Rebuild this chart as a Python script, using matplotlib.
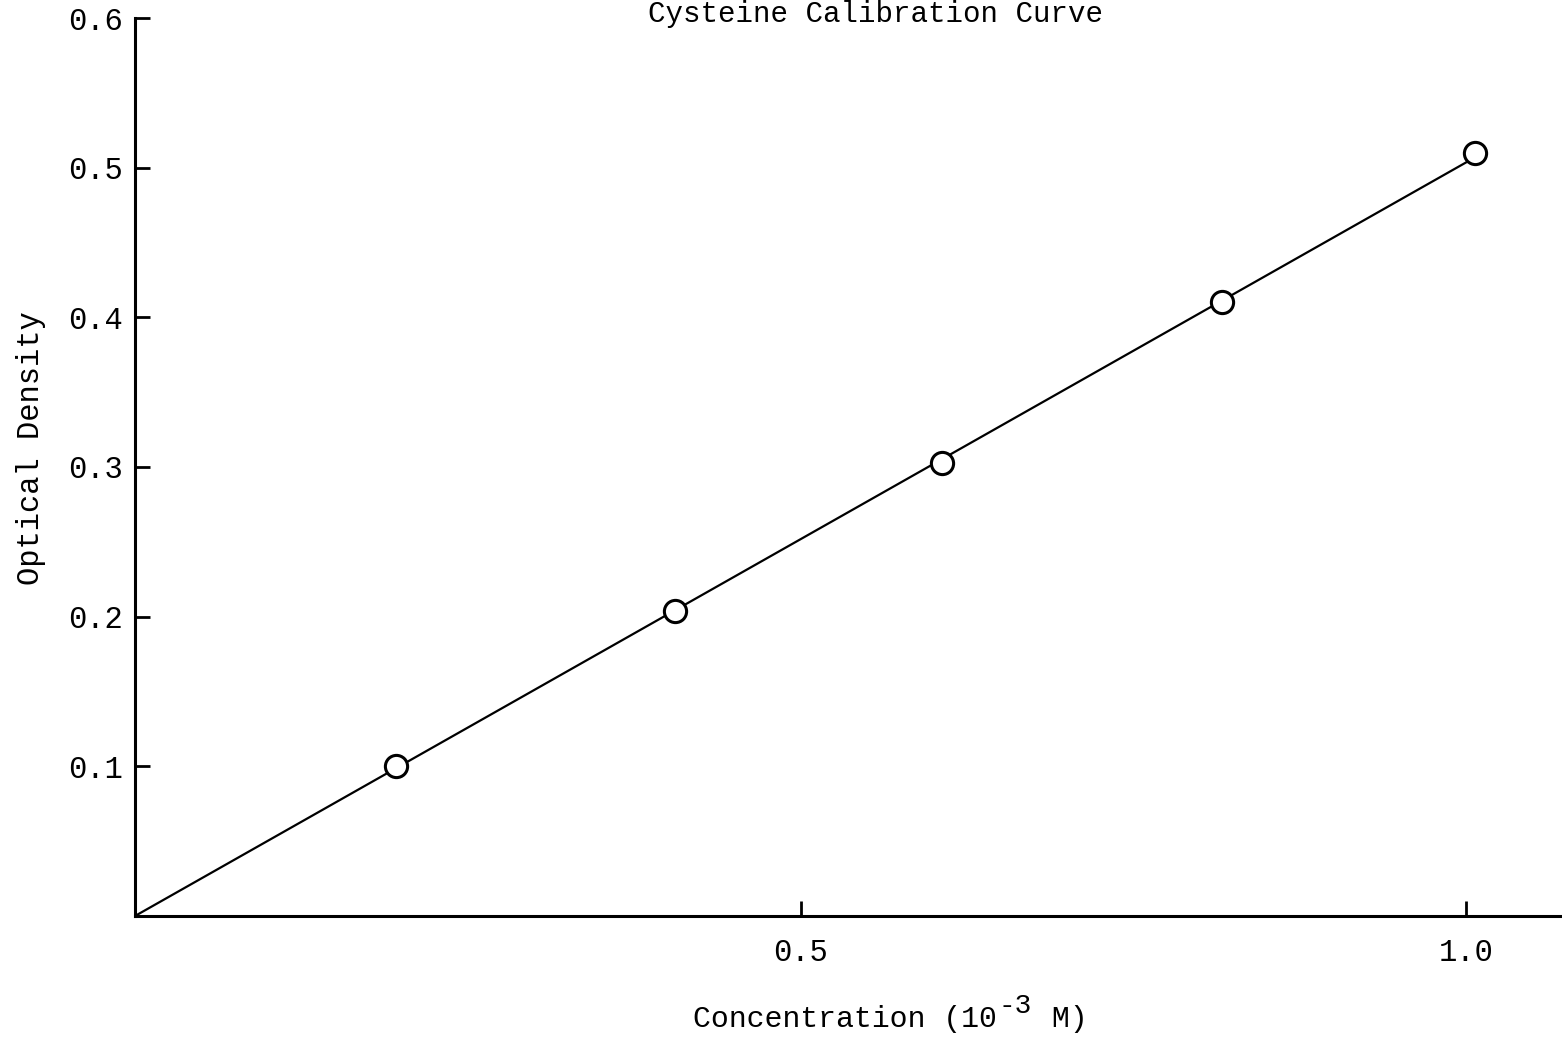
import matplotlib
matplotlib.use("Agg")
import matplotlib.pyplot as plt

# Data
conc = [0.196, 0.406, 0.606, 0.817, 1.007]
od = [0.100, 0.204, 0.303, 0.410, 0.510]
fit_x = [0.0, 1.007]
fit_y = [0.0, 0.507]
xticks = [0.5, 1.0]
xticklabels = ["0.5", "1.0"]
yticks = [0.1, 0.2, 0.3, 0.4, 0.5, 0.6]
yticklabels = ["0.1", "0.2", "0.3", "0.4", "0.5", "0.6"]

plt.rcParams['font.family'] = ['Liberation Mono', 'DejaVu Sans Mono']

W, H = 1562, 1042
fig = plt.figure(figsize=(W / 100, H / 100), dpi=100)
left, bottom_px, top_px = 135, 916, 18
ax = fig.add_axes([left / W, (H - bottom_px) / H, (W - left) / W, (bottom_px - top_px) / H])

ax.plot(fit_x, fit_y, color='black', lw=1.6, zorder=2)
ax.plot(conc, od, linestyle='none', marker='o', markersize=16,
        markerfacecolor='white', markeredgecolor='black', markeredgewidth=2.2, zorder=3)

ax.set_xlim(0, (W - left) / 1331)
ax.set_ylim(0, 0.6)
for s in ['top', 'right']:
    ax.spines[s].set_visible(False)
for s in ['left', 'bottom']:
    ax.spines[s].set_linewidth(2.2)
ax.set_xticks(xticks)
ax.set_xticklabels(xticklabels)
ax.set_yticks(yticks)
ax.set_yticklabels(yticklabels)
ax.tick_params(axis='both', direction='in', length=11, width=2, labelsize=22, colors='black')
ax.tick_params(axis='x', pad=16)
ax.tick_params(axis='y', pad=9)

fs = 21
fig.text(876 / W, 1 - 22 / H, 'Cysteine Calibration Curve', ha='center', va='baseline', fontsize=fs)
fig.text(31 / W, 1 - 448 / H, 'Optical Density', rotation=90, ha='center', va='center', fontsize=22)

# x label with full-size raised exponent
r = fig.canvas.get_renderer()
t1 = fig.text(693 / W, 1 - 1027 / H, 'Concentration (10', ha='left', va='baseline', fontsize=21.5)
bb1 = t1.get_window_extent(r)
t2 = fig.text((bb1.x1 + 2) / W, 1 - 1013 / H, '-3', ha='left', va='baseline', fontsize=20)
bb2 = t2.get_window_extent(r)
fig.text((bb2.x1 + 2) / W, 1 - 1027 / H, ' M)', ha='left', va='baseline', fontsize=21.5)

fig.savefig('out.png', dpi=100, facecolor='white')
